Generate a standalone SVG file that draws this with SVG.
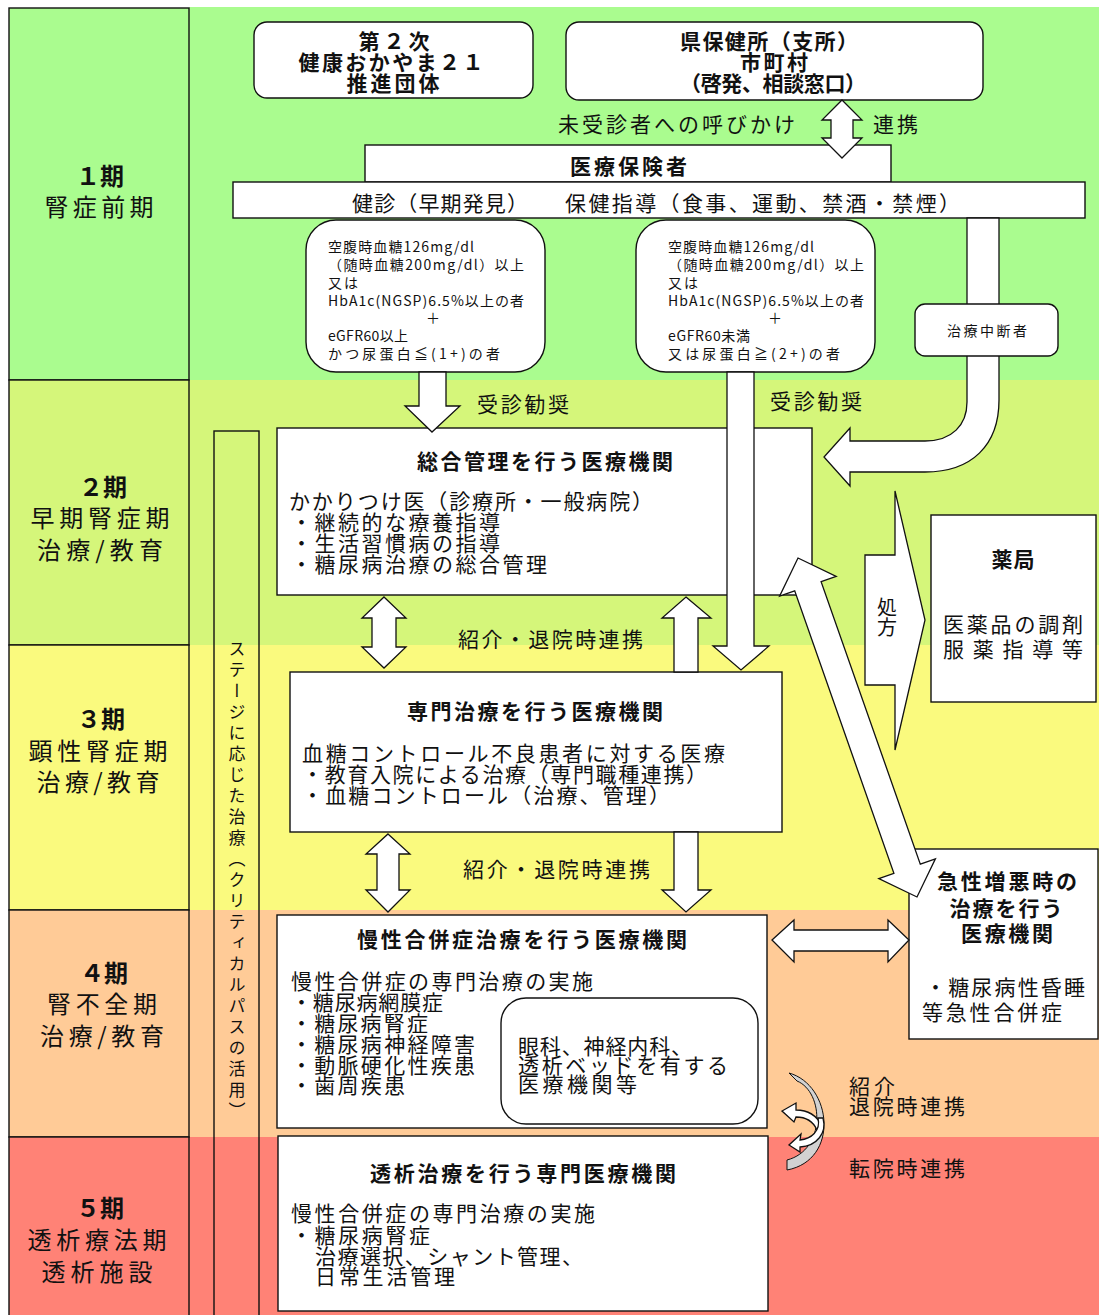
<svg xmlns="http://www.w3.org/2000/svg" width="1099" height="1315" viewBox="0 0 1099 1315">
<style>
text{font-family:"Noto Sans CJK JP","Noto Sans",sans-serif;fill:#111;dominant-baseline:central}
.t{font-size:21px}
.b{font-size:21px;font-weight:700}
.s{font-size:14px}
.ph{font-size:24px;text-anchor:middle}
.phb{font-size:24px;font-weight:700;text-anchor:middle}
.m{text-anchor:middle}
.box{fill:#fff;stroke:#111;stroke-width:1.4}
.cell{stroke:#111;stroke-width:1.4}
.arr{fill:#fff;stroke:#111;stroke-width:1.3;stroke-linejoin:miter}
</style>
<rect x="0" y="0" width="1099" height="1315" fill="#fff"/>
<g id="bands">
<rect x="189" y="7" width="910" height="373" fill="#AAFC8F"/>
<rect x="189" y="380" width="910" height="265" fill="#D5F67A"/>
<rect x="189" y="645" width="910" height="265" fill="#FAFA7E"/>
<rect x="189" y="910" width="910" height="227" fill="#FFCB97"/>
<rect x="189" y="1137" width="910" height="178" fill="#FF8276"/>
</g>
<g id="phase1"><rect class="cell" x="9" y="8" width="180" height="372" fill="#AAFC8F"/>
<text class="phb" x="100" y="174">１期</text><text class="ph" x="99" y="205" textLength="109">腎症前期</text></g>
<g id="phase2"><rect class="cell" x="9" y="380" width="180" height="265" fill="#D5F67A"/>
<text class="phb" x="103" y="485">２期</text><text class="ph" x="100" y="516" textLength="139">早期腎症期</text><text class="ph" x="100" y="548" textLength="126">治療/教育</text></g>
<g id="phase3"><rect class="cell" x="9" y="645" width="180" height="265" fill="#FAFA7E"/>
<text class="phb" x="101" y="717">３期</text><text class="ph" x="98" y="749" textLength="139">顕性腎症期</text><text class="ph" x="98" y="780" textLength="123">治療/教育</text></g>
<g id="phase4"><rect class="cell" x="9" y="910" width="180" height="227" fill="#FFCB97"/>
<text class="phb" x="104" y="971">４期</text><text class="ph" x="102" y="1002" textLength="110">腎不全期</text><text class="ph" x="102" y="1034" textLength="124">治療/教育</text></g>
<g id="phase5"><rect class="cell" x="9" y="1137" width="180" height="190" fill="#FF8276"/>
<text class="phb" x="100" y="1206">５期</text><text class="ph" x="97" y="1238" textLength="139">透析療法期</text><text class="ph" x="97" y="1270" textLength="111">透析施設</text></g>

<g id="stage-path"><rect x="214" y="431" width="45" height="900" fill="none" stroke="#111" stroke-width="1.4"/>
<text x="237" y="640" style="writing-mode:vertical-rl;font-size:17px;letter-spacing:4px">ステージに応じた治療（クリティカルパスの活用）</text></g>

<g id="kenko21"><rect class="box" x="254" y="22" width="279" height="76" rx="13"/>
<text class="b m" x="394" y="40" textLength="71">第２次</text><text class="b m" x="391" y="61" textLength="185">健康おかやま２１</text><text class="b m" x="393" y="82" textLength="93">推進団体</text></g>
<g id="hokenjo"><rect class="box" x="566" y="22" width="417" height="78" rx="13"/>
<text class="b m" x="769" y="40" textLength="178">県保健所（支所）</text><text class="b m" x="774" y="61" textLength="68">市町村</text><text class="b m" x="773" y="82" textLength="186">（啓発、相談窓口）</text></g>
<g id="label-call"><text class="t" x="558" y="123" textLength="237">未受診者への呼びかけ</text><text class="t" x="873" y="123" textLength="45">連携</text></g>
<g id="hokensha"><rect class="box" x="365" y="145" width="526" height="37"/>
<text class="b" x="570" y="165" textLength="117">医療保険者</text></g>
<g id="kenshin"><rect class="box" x="233" y="182" width="852" height="36"/>
<text class="t" x="352" y="202" textLength="176">健診（早期発見）</text><text class="t" x="565" y="202" textLength="395">保健指導（食事、運動、禁酒・禁煙）</text></g>
<g id="criteria1"><rect class="box" x="306" y="220" width="239" height="152" rx="30"/>
<text class="s" x="328" y="246" textLength="146">空腹時血糖126mg/dl</text>
<text class="s" x="328" y="264" textLength="196">（随時血糖200mg/dl）以上</text>
<text class="s" x="328" y="282" textLength="30">又は</text>
<text class="s" x="328" y="300" textLength="196">HbA1c(NGSP)6.5%以上の者</text>
<text class="s m" x="433" y="317">＋</text>
<text class="s" x="328" y="335" textLength="80">eGFR60以上</text>
<text class="s" x="328" y="353" textLength="172">かつ尿蛋白≦(1+)の者</text></g>
<g id="criteria2"><rect class="box" x="636" y="220" width="239" height="152" rx="30"/>
<text class="s" x="668" y="246" textLength="146">空腹時血糖126mg/dl</text>
<text class="s" x="668" y="264" textLength="196">（随時血糖200mg/dl）以上</text>
<text class="s" x="668" y="282" textLength="30">又は</text>
<text class="s" x="668" y="300" textLength="196">HbA1c(NGSP)6.5%以上の者</text>
<text class="s m" x="775" y="317">＋</text>
<text class="s" x="668" y="335" textLength="82">eGFR60未満</text>
<text class="s" x="668" y="353" textLength="172">又は尿蛋白≧(2+)の者</text></g>
<g id="label-jushin"><text class="t" x="477" y="403" textLength="92">受診勧奨</text><text class="t" x="770" y="400" textLength="92">受診勧奨</text></g>
<g id="sogo"><rect class="box" x="277" y="428" width="535" height="167"/>
<text class="b" x="417" y="460" textLength="256">総合管理を行う医療機関</text>
<text class="t" x="289" y="500" textLength="364">かかりつけ医（診療所・一般病院）</text>
<text class="t" x="291" y="521" textLength="209">・継続的な療養指導</text>
<text class="t" x="291" y="542" textLength="209">・生活習慣病の指導</text>
<text class="t" x="291" y="563" textLength="256">・糖尿病治療の総合管理</text></g>
<g id="label-renkei1"><text class="t" x="458" y="638" textLength="185">紹介・退院時連携</text></g>
<g id="senmon"><rect class="box" x="290" y="672" width="492" height="160"/>
<text class="b" x="407" y="710" textLength="256">専門治療を行う医療機関</text>
<text class="t" x="302" y="752" textLength="423">血糖コントロール不良患者に対する医療</text>
<text class="t" x="302" y="773" textLength="405">・教育入院による治療（専門職種連携）</text>
<text class="t" x="302" y="794" textLength="368">・血糖コントロール（治療、管理）</text></g>
<g id="label-renkei2"><text class="t" x="463" y="868" textLength="187">紹介・退院時連携</text></g>
<g id="mansei"><rect class="box" x="277" y="915" width="490" height="213"/>
<text class="b" x="357" y="938" textLength="330">慢性合併症治療を行う医療機関</text>
<text class="t" x="291" y="980" textLength="302">慢性合併症の専門治療の実施</text>
<text class="t" x="291" y="1001" textLength="152">・糖尿病網膜症</text>
<text class="t" x="291" y="1022" textLength="137">・糖尿病腎症</text>
<text class="t" x="291" y="1043" textLength="184">・糖尿病神経障害</text>
<text class="t" x="291" y="1064" textLength="184">・動脈硬化性疾患</text>
<text class="t" x="291" y="1084" textLength="114">・歯周疾患</text>
<rect class="box" x="501" y="998" width="257" height="126" rx="25"/>
<text class="t" x="518" y="1045" textLength="174">眼科、神経内科、</text>
<text class="t" x="518" y="1064" textLength="210">透析ベッドを有する</text>
<text class="t" x="518" y="1083" textLength="119">医療機関等</text></g>
<g id="toseki"><rect class="box" x="278" y="1136" width="490" height="175"/>
<text class="b" x="370" y="1172" textLength="306">透析治療を行う専門医療機関</text>
<text class="t" x="291" y="1212" textLength="304">慢性合併症の専門治療の実施</text>
<text class="t" x="291" y="1234" textLength="139">・糖尿病腎症</text>
<text class="t" x="315" y="1255" textLength="268">治療選択、シャント管理、</text>
<text class="t" x="315" y="1275" textLength="140">日常生活管理</text></g>
<g id="yakkyoku"><rect class="box" x="931" y="515" width="165" height="187"/>
<text class="b m" x="1013" y="558" textLength="43">薬局</text>
<text class="t" x="943" y="623" textLength="140">医薬品の調剤</text>
<text class="t" x="943" y="648" textLength="140">服薬指導等</text></g>
<g id="kyusei"><rect class="box" x="909" y="849" width="189" height="190"/>
<text class="b m" x="1007" y="880" textLength="140">急性増悪時の</text>
<text class="b m" x="1006" y="907" textLength="113">治療を行う</text>
<text class="b m" x="1007" y="932" textLength="92">医療機関</text>
<text class="t" x="925" y="986" textLength="160">・糖尿病性昏睡</text>
<text class="t" x="922" y="1011" textLength="140">等急性合併症</text></g>
<g id="label-bottom"><text class="t" x="849" y="1085" textLength="46">紹介</text><text class="t" x="849" y="1105" textLength="116">退院時連携</text><text class="t" x="849" y="1167" textLength="116">転院時連携</text></g>

<g id="connectors">
<polygon class="arr" points="842,100 862,120 853,120 853,138 862,138 842,158 822,138 831,138 831,120 822,120"/>
<polygon class="arr" points="419,372 446,372 446,406 460,406 432,432 405,406 419,406"/>
<polygon class="arr" points="727,372 754,372 754,646 769,646 741,670 713,646 727,646"/>
<polygon class="arr" points="384,597 406,618 396,618 396,647 406,647 384,668 362,647 372,647 372,618 362,618"/>
<polygon class="arr" points="686,597 711,618 698,618 698,672 674,672 674,618 662,618"/>
<polygon class="arr" points="388,834 410,854 399,854 399,890 410,890 388,912 366,890 377,890 377,854 366,854"/>
<polygon class="arr" points="674,832 698,832 698,890 711,890 686,912 662,890 674,890"/>
<polygon class="arr" points="772,940 794,920 794,930 888,930 888,920 909,940 888,962 888,951 794,951 794,962"/>
<polygon class="arr" points="798,558 836.2,576.4 821.1,581.7 920.3,864.1 935.4,858.8 917,897 878.8,878.6 893.9,873.3 794.7,590.9 779.6,596.2"/>
<polygon class="arr" points="865,555 895,555 895,491 925,620 895,750 895,685 865,685"/>
<path class="arr" d="M967,218 L999,218 L999,400 C999,445 972,472 925,472 L850,472 L850,486 L824,457 L850,428 L850,441 L925,441 C952,441 967,425 967,402 Z"/>
<path d="M789,1073 C832,1085 840,1160 787,1170 L787,1160 C826,1150 824,1092 797,1081 Z" fill="#D2D2D2" stroke="#111" stroke-width="1"/>
<path class="arr" stroke-width="1" d="M822,1126 C816,1114 806,1110 796,1110 L796,1103 L782,1111 L794,1122 L796,1117 C806,1117 813,1121 817,1130 Z"/>
<path class="arr" stroke-width="1" d="M818,1118 C821,1131 811,1139 800,1140 L801,1134 L789,1145 L800,1152 L800,1147 C817,1146 827,1133 823,1118 Z"/>
</g>
<g id="chiryo-chudan"><rect class="box" x="915" y="304" width="143" height="52" rx="10"/>
<text class="s m" x="987" y="330" textLength="80">治療中断者</text></g>
<g id="shoho"><text x="887" y="597" style="writing-mode:vertical-rl;font-size:20px">処方</text></g>
</svg>
